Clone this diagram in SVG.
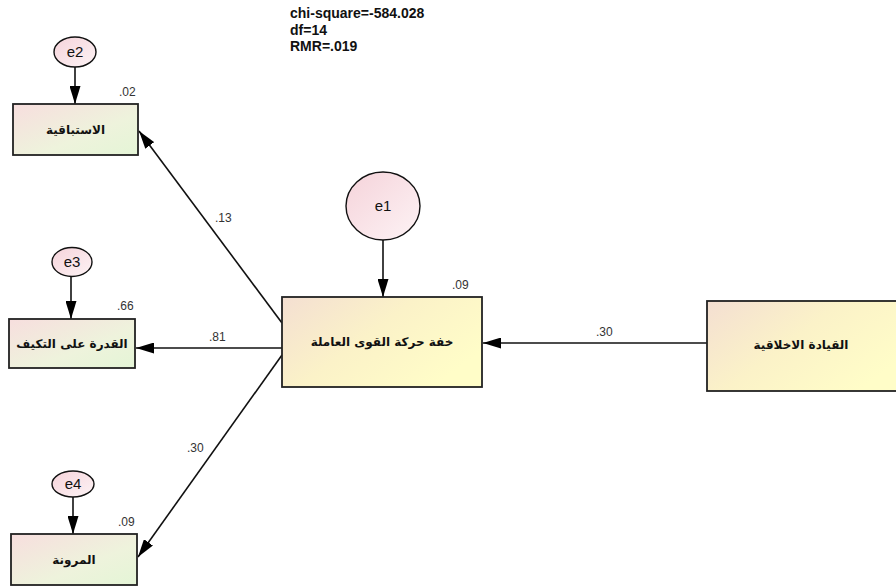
<svg xmlns="http://www.w3.org/2000/svg" width="896" height="586" viewBox="0 0 896 586">
  <style>
    .box { stroke: #222; stroke-width: 1.8; }
    .err { fill: url(#errFill); stroke: #111; stroke-width: 1.4; }
    .path { stroke: #111; stroke-width: 1.6; fill: none; marker-end: url(#arrow); }
    .ar { font-family: "DejaVu Sans", "Noto Sans", sans-serif; font-size: 12px; font-weight: bold; fill: #111; text-anchor: middle; }
    .elbl { font-family: "Liberation Sans", Arial, sans-serif; font-size: 15px; fill: #111; text-anchor: middle; }
    .num { font-family: "Liberation Sans", Arial, sans-serif; font-size: 12px; fill: #333; }
    .fit { font-family: "Liberation Sans", Arial, sans-serif; font-size: 14px; font-weight: bold; fill: #111; }
  </style>
  <defs>
    <linearGradient id="obsFill" x1="0" y1="0" x2="1" y2="1">
      <stop offset="0" stop-color="#f7dede"/>
      <stop offset="0.6" stop-color="#eef3dc"/>
      <stop offset="1" stop-color="#e4f5d6"/>
    </linearGradient>
    <linearGradient id="latFill" x1="0" y1="0" x2="1" y2="0.6">
      <stop offset="0" stop-color="#f4dfd2"/>
      <stop offset="0.5" stop-color="#fbf2c8"/>
      <stop offset="1" stop-color="#fffdc8"/>
    </linearGradient>
    <linearGradient id="errFill" x1="0" y1="0" x2="1" y2="1">
      <stop offset="0" stop-color="#f5d3da"/>
      <stop offset="1" stop-color="#fdf3f5"/>
    </linearGradient>
    <marker id="arrow" viewBox="0 0 18 11" refX="18" refY="5.5" markerWidth="18" markerHeight="11" markerUnits="userSpaceOnUse" orient="auto">
      <path d="M0,0 L18,5.5 L0,11 Z" fill="#000"/>
    </marker>
  </defs>

  <!-- model fit summary -->
  <g id="fit">
    <text class="fit" x="290" y="18">chi-square=-584.028</text>
    <text class="fit" x="290" y="35">df=14</text>
    <text class="fit" x="290" y="51">RMR=.019</text>
  </g>

  <!-- paths and error links -->
  <g id="connectors">
    <line class="path" x1="75" y1="67" x2="75" y2="104"/>
    <line class="path" x1="71" y1="277" x2="71" y2="319"/>
    <line class="path" x1="73" y1="497" x2="73" y2="534"/>
    <line class="path" x1="383" y1="240" x2="383" y2="297"/>
    <line class="path" x1="707" y1="343" x2="483" y2="343"/>
    <line class="path" x1="282" y1="323" x2="139" y2="131"/>
    <line class="path" x1="282" y1="348" x2="136" y2="348"/>
    <line class="path" x1="282" y1="355" x2="138" y2="557"/>
    <text class="num" x="596" y="336">.30</text>
    <text class="num" x="215" y="222">.13</text>
    <text class="num" x="209" y="341">.81</text>
    <text class="num" x="187" y="452">.30</text>
  </g>

  <g id="e2">
    <ellipse class="err" cx="75" cy="52" rx="21" ry="15"/>
    <text class="elbl" x="75" y="57">e2</text>
  </g>
  <g id="e3">
    <ellipse class="err" cx="72" cy="262" rx="20" ry="14.5"/>
    <text class="elbl" x="72" y="267">e3</text>
  </g>
  <g id="e4">
    <ellipse class="err" cx="73" cy="484" rx="21" ry="13"/>
    <text class="elbl" x="73" y="489">e4</text>
  </g>
  <g id="e1">
    <ellipse class="err" cx="383" cy="206" rx="37" ry="34"/>
    <text class="elbl" x="383" y="211">e1</text>
  </g>

  <g id="proactivity">
    <rect class="box" x="13" y="104" width="125" height="51" fill="url(#obsFill)"/>
    <text class="ar" x="75.5" y="134" direction="rtl">الاستباقية</text>
    <text class="num" x="119" y="96">.02</text>
  </g>
  <g id="adaptability">
    <rect class="box" x="9" y="319" width="126" height="49" fill="url(#obsFill)"/>
    <text class="ar" x="72" y="348" direction="rtl">القدرة على التكيف</text>
    <text class="num" x="117" y="310">.66</text>
  </g>
  <g id="flexibility">
    <rect class="box" x="11" y="534" width="126" height="51" fill="url(#obsFill)"/>
    <text class="ar" x="74" y="564" direction="rtl">المرونة</text>
    <text class="num" x="118" y="526">.09</text>
  </g>
  <g id="workforce-agility">
    <rect class="box" x="282" y="297" width="200" height="90" fill="url(#latFill)"/>
    <text class="ar" x="382" y="346" direction="rtl">خفة حركة القوى العاملة</text>
    <text class="num" x="452" y="289">.09</text>
  </g>
  <g id="ethical-leadership">
    <rect class="box" x="707" y="301" width="200" height="90" fill="url(#latFill)"/>
    <text class="ar" x="801" y="349" direction="rtl">القيادة الاخلاقية</text>
  </g>
</svg>
